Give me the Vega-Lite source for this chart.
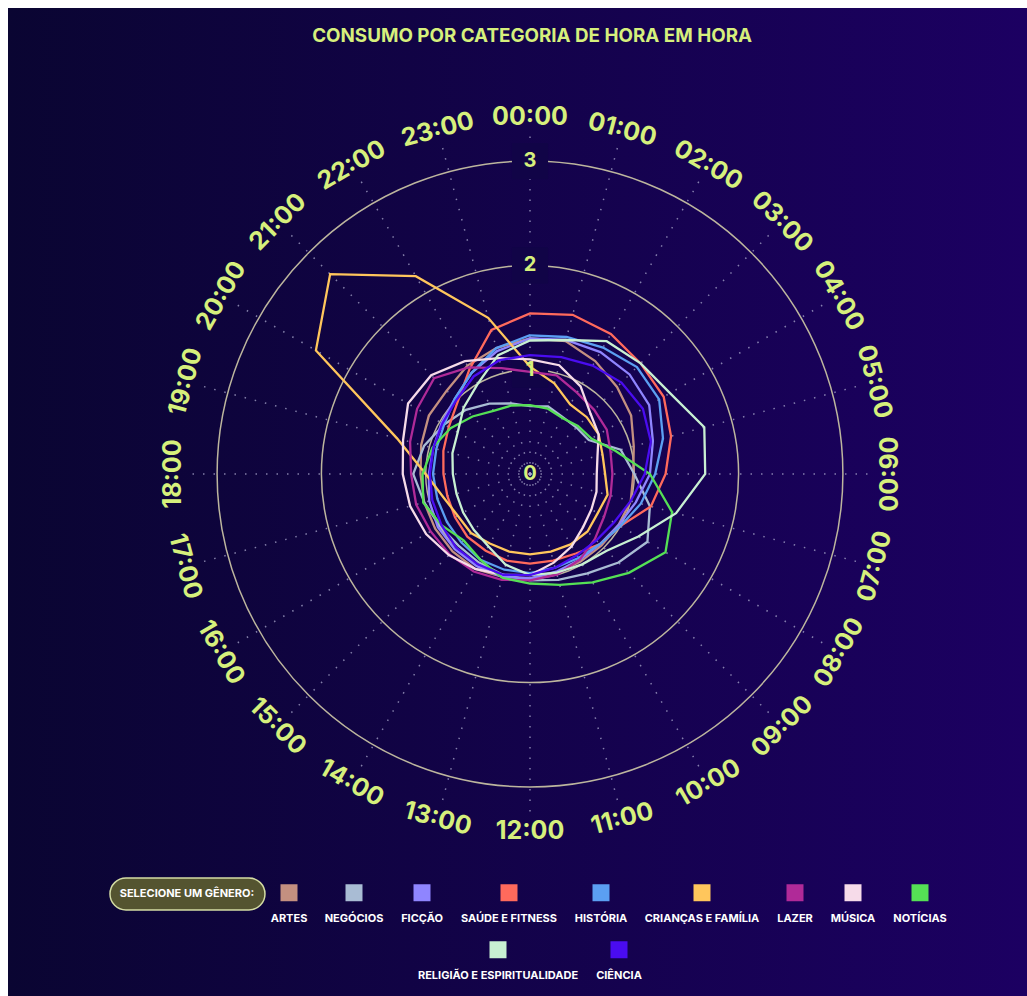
{
  "$schema": "https://vega.github.io/schema/vega-lite/v6.json",
  "width": 1019,
  "height": 988,
  "autosize": {"type": "none"},
  "padding": {"left": 8, "top": 8, "right": 0, "bottom": 0},
  "background": "#ffffff",
  "config": {
    "view": {"stroke": null, "fill": {"gradient": "linear", "x1": 0, "y1": 0, "x2": 1, "y2": 0, "stops": [{"offset": 0, "color": "#0a0532"}, {"offset": 1, "color": "#1c0062"}]}},
    "axis": {"disable": true},
    "style": {"guide-label": {"lineHeight": 20}}
  },
  "datasets": {
    "hours": [
      {"hour": 0, "label": "00:00"}, {"hour": 1, "label": "01:00"}, {"hour": 2, "label": "02:00"}, {"hour": 3, "label": "03:00"},
      {"hour": 4, "label": "04:00"}, {"hour": 5, "label": "05:00"}, {"hour": 6, "label": "06:00"}, {"hour": 7, "label": "07:00"},
      {"hour": 8, "label": "08:00"}, {"hour": 9, "label": "09:00"}, {"hour": 10, "label": "10:00"}, {"hour": 11, "label": "11:00"},
      {"hour": 12, "label": "12:00"}, {"hour": 13, "label": "13:00"}, {"hour": 14, "label": "14:00"}, {"hour": 15, "label": "15:00"},
      {"hour": 16, "label": "16:00"}, {"hour": 17, "label": "17:00"}, {"hour": 18, "label": "18:00"}, {"hour": 19, "label": "19:00"},
      {"hour": 20, "label": "20:00"}, {"hour": 21, "label": "21:00"}, {"hour": 22, "label": "22:00"}, {"hour": 23, "label": "23:00"}
    ],
    "ticks": [{"v": 0}, {"v": 1}, {"v": 2}, {"v": 3}],
    "series": [
      {"genre":"ARTES","hour":0,"value":1.3},{"genre":"ARTES","hour":1,"value":1.32},{"genre":"ARTES","hour":2,"value":1.25},{"genre":"ARTES","hour":3,"value":1.18},{"genre":"ARTES","hour":4,"value":1.12},{"genre":"ARTES","hour":5,"value":1.03},{"genre":"ARTES","hour":6,"value":0.99},{"genre":"ARTES","hour":7,"value":1.0},{"genre":"ARTES","hour":8,"value":0.98},{"genre":"ARTES","hour":9,"value":0.97},{"genre":"ARTES","hour":10,"value":0.97},{"genre":"ARTES","hour":11,"value":0.98},{"genre":"ARTES","hour":12,"value":1.0},{"genre":"ARTES","hour":13,"value":1.02},{"genre":"ARTES","hour":14,"value":1.05},{"genre":"ARTES","hour":15,"value":1.05},{"genre":"ARTES","hour":16,"value":1.05},{"genre":"ARTES","hour":17,"value":1.05},{"genre":"ARTES","hour":18,"value":1.05},{"genre":"ARTES","hour":19,"value":1.08},{"genre":"ARTES","hour":20,"value":1.12},{"genre":"ARTES","hour":21,"value":1.13},{"genre":"ARTES","hour":22,"value":1.2},{"genre":"ARTES","hour":23,"value":1.25},
      {"genre":"NEGÓCIOS","hour":0,"value":0.65},{"genre":"NEGÓCIOS","hour":1,"value":0.67},{"genre":"NEGÓCIOS","hour":2,"value":0.63},{"genre":"NEGÓCIOS","hour":3,"value":0.63},{"genre":"NEGÓCIOS","hour":4,"value":0.65},{"genre":"NEGÓCIOS","hour":5,"value":0.9},{"genre":"NEGÓCIOS","hour":6,"value":1.0},{"genre":"NEGÓCIOS","hour":7,"value":1.19},{"genre":"NEGÓCIOS","hour":8,"value":1.3},{"genre":"NEGÓCIOS","hour":9,"value":1.2},{"genre":"NEGÓCIOS","hour":10,"value":1.1},{"genre":"NEGÓCIOS","hour":11,"value":1.05},{"genre":"NEGÓCIOS","hour":12,"value":1.02},{"genre":"NEGÓCIOS","hour":13,"value":1.0},{"genre":"NEGÓCIOS","hour":14,"value":0.98},{"genre":"NEGÓCIOS","hour":15,"value":0.97},{"genre":"NEGÓCIOS","hour":16,"value":1.0},{"genre":"NEGÓCIOS","hour":17,"value":1.05},{"genre":"NEGÓCIOS","hour":18,"value":1.12},{"genre":"NEGÓCIOS","hour":19,"value":1.05},{"genre":"NEGÓCIOS","hour":20,"value":0.95},{"genre":"NEGÓCIOS","hour":21,"value":0.87},{"genre":"NEGÓCIOS","hour":22,"value":0.78},{"genre":"NEGÓCIOS","hour":23,"value":0.7},
      {"genre":"FICÇÃO","hour":0,"value":1.3},{"genre":"FICÇÃO","hour":1,"value":1.33},{"genre":"FICÇÃO","hour":2,"value":1.35},{"genre":"FICÇÃO","hour":3,"value":1.35},{"genre":"FICÇÃO","hour":4,"value":1.32},{"genre":"FICÇÃO","hour":5,"value":1.22},{"genre":"FICÇÃO","hour":6,"value":1.15},{"genre":"FICÇÃO","hour":7,"value":1.05},{"genre":"FICÇÃO","hour":8,"value":0.98},{"genre":"FICÇÃO","hour":9,"value":0.95},{"genre":"FICÇÃO","hour":10,"value":0.95},{"genre":"FICÇÃO","hour":11,"value":0.97},{"genre":"FICÇÃO","hour":12,"value":1.0},{"genre":"FICÇÃO","hour":13,"value":1.02},{"genre":"FICÇÃO","hour":14,"value":1.02},{"genre":"FICÇÃO","hour":15,"value":1.02},{"genre":"FICÇÃO","hour":16,"value":1.02},{"genre":"FICÇÃO","hour":17,"value":1.0},{"genre":"FICÇÃO","hour":18,"value":0.97},{"genre":"FICÇÃO","hour":19,"value":0.96},{"genre":"FICÇÃO","hour":20,"value":0.98},{"genre":"FICÇÃO","hour":21,"value":1.02},{"genre":"FICÇÃO","hour":22,"value":1.12},{"genre":"FICÇÃO","hour":23,"value":1.22},
      {"genre":"SAÚDE E FITNESS","hour":0,"value":1.54},{"genre":"SAÚDE E FITNESS","hour":1,"value":1.58},{"genre":"SAÚDE E FITNESS","hour":2,"value":1.55},{"genre":"SAÚDE E FITNESS","hour":3,"value":1.5},{"genre":"SAÚDE E FITNESS","hour":4,"value":1.48},{"genre":"SAÚDE E FITNESS","hour":5,"value":1.4},{"genre":"SAÚDE E FITNESS","hour":6,"value":1.3},{"genre":"SAÚDE E FITNESS","hour":7,"value":1.2},{"genre":"SAÚDE E FITNESS","hour":8,"value":1.0},{"genre":"SAÚDE E FITNESS","hour":9,"value":0.95},{"genre":"SAÚDE E FITNESS","hour":10,"value":0.88},{"genre":"SAÚDE E FITNESS","hour":11,"value":0.86},{"genre":"SAÚDE E FITNESS","hour":12,"value":0.86},{"genre":"SAÚDE E FITNESS","hour":13,"value":0.86},{"genre":"SAÚDE E FITNESS","hour":14,"value":0.85},{"genre":"SAÚDE E FITNESS","hour":15,"value":0.85},{"genre":"SAÚDE E FITNESS","hour":16,"value":0.83},{"genre":"SAÚDE E FITNESS","hour":17,"value":0.82},{"genre":"SAÚDE E FITNESS","hour":18,"value":0.83},{"genre":"SAÚDE E FITNESS","hour":19,"value":0.86},{"genre":"SAÚDE E FITNESS","hour":20,"value":0.9},{"genre":"SAÚDE E FITNESS","hour":21,"value":0.98},{"genre":"SAÚDE E FITNESS","hour":22,"value":1.16},{"genre":"SAÚDE E FITNESS","hour":23,"value":1.43},
      {"genre":"HISTÓRIA","hour":0,"value":1.33},{"genre":"HISTÓRIA","hour":1,"value":1.36},{"genre":"HISTÓRIA","hour":2,"value":1.4},{"genre":"HISTÓRIA","hour":3,"value":1.45},{"genre":"HISTÓRIA","hour":4,"value":1.43},{"genre":"HISTÓRIA","hour":5,"value":1.32},{"genre":"HISTÓRIA","hour":6,"value":1.2},{"genre":"HISTÓRIA","hour":7,"value":1.1},{"genre":"HISTÓRIA","hour":8,"value":1.0},{"genre":"HISTÓRIA","hour":9,"value":0.95},{"genre":"HISTÓRIA","hour":10,"value":0.93},{"genre":"HISTÓRIA","hour":11,"value":0.93},{"genre":"HISTÓRIA","hour":12,"value":0.95},{"genre":"HISTÓRIA","hour":13,"value":0.95},{"genre":"HISTÓRIA","hour":14,"value":0.95},{"genre":"HISTÓRIA","hour":15,"value":0.93},{"genre":"HISTÓRIA","hour":16,"value":0.92},{"genre":"HISTÓRIA","hour":17,"value":0.92},{"genre":"HISTÓRIA","hour":18,"value":0.93},{"genre":"HISTÓRIA","hour":19,"value":0.93},{"genre":"HISTÓRIA","hour":20,"value":0.95},{"genre":"HISTÓRIA","hour":21,"value":1.02},{"genre":"HISTÓRIA","hour":22,"value":1.12},{"genre":"HISTÓRIA","hour":23,"value":1.25},
      {"genre":"CRIANÇAS E FAMÍLIA","hour":0,"value":1.03},{"genre":"CRIANÇAS E FAMÍLIA","hour":1,"value":0.9},{"genre":"CRIANÇAS E FAMÍLIA","hour":2,"value":0.77},{"genre":"CRIANÇAS E FAMÍLIA","hour":3,"value":0.77},{"genre":"CRIANÇAS E FAMÍLIA","hour":4,"value":0.76},{"genre":"CRIANÇAS E FAMÍLIA","hour":5,"value":0.72},{"genre":"CRIANÇAS E FAMÍLIA","hour":6,"value":0.72},{"genre":"CRIANÇAS E FAMÍLIA","hour":7,"value":0.77},{"genre":"CRIANÇAS E FAMÍLIA","hour":8,"value":0.75},{"genre":"CRIANÇAS E FAMÍLIA","hour":9,"value":0.78},{"genre":"CRIANÇAS E FAMÍLIA","hour":10,"value":0.78},{"genre":"CRIANÇAS E FAMÍLIA","hour":11,"value":0.77},{"genre":"CRIANÇAS E FAMÍLIA","hour":12,"value":0.77},{"genre":"CRIANÇAS E FAMÍLIA","hour":13,"value":0.77},{"genre":"CRIANÇAS E FAMÍLIA","hour":14,"value":0.77},{"genre":"CRIANÇAS E FAMÍLIA","hour":15,"value":0.8},{"genre":"CRIANÇAS E FAMÍLIA","hour":16,"value":0.8},{"genre":"CRIANÇAS E FAMÍLIA","hour":17,"value":0.86},{"genre":"CRIANÇAS E FAMÍLIA","hour":18,"value":1.0},{"genre":"CRIANÇAS E FAMÍLIA","hour":19,"value":1.32},{"genre":"CRIANÇAS E FAMÍLIA","hour":20,"value":2.37},{"genre":"CRIANÇAS E FAMÍLIA","hour":21,"value":2.71},{"genre":"CRIANÇAS E FAMÍLIA","hour":22,"value":2.19},{"genre":"CRIANÇAS E FAMÍLIA","hour":23,"value":1.55},
      {"genre":"LAZER","hour":0,"value":0.98},{"genre":"LAZER","hour":1,"value":0.98},{"genre":"LAZER","hour":2,"value":0.9},{"genre":"LAZER","hour":3,"value":0.87},{"genre":"LAZER","hour":4,"value":0.85},{"genre":"LAZER","hour":5,"value":0.8},{"genre":"LAZER","hour":6,"value":0.79},{"genre":"LAZER","hour":7,"value":0.8},{"genre":"LAZER","hour":8,"value":0.82},{"genre":"LAZER","hour":9,"value":0.88},{"genre":"LAZER","hour":10,"value":0.95},{"genre":"LAZER","hour":11,"value":1.0},{"genre":"LAZER","hour":12,"value":1.02},{"genre":"LAZER","hour":13,"value":1.05},{"genre":"LAZER","hour":14,"value":1.08},{"genre":"LAZER","hour":15,"value":1.09},{"genre":"LAZER","hour":16,"value":1.1},{"genre":"LAZER","hour":17,"value":1.13},{"genre":"LAZER","hour":18,"value":1.14},{"genre":"LAZER","hour":19,"value":1.19},{"genre":"LAZER","hour":20,"value":1.25},{"genre":"LAZER","hour":21,"value":1.3},{"genre":"LAZER","hour":22,"value":1.18},{"genre":"LAZER","hour":23,"value":1.05},
      {"genre":"MÚSICA","hour":0,"value":1.1},{"genre":"MÚSICA","hour":1,"value":1.08},{"genre":"MÚSICA","hour":2,"value":0.97},{"genre":"MÚSICA","hour":3,"value":0.82},{"genre":"MÚSICA","hour":4,"value":0.76},{"genre":"MÚSICA","hour":5,"value":0.67},{"genre":"MÚSICA","hour":6,"value":0.64},{"genre":"MÚSICA","hour":7,"value":0.66},{"genre":"MÚSICA","hour":8,"value":0.68},{"genre":"MÚSICA","hour":9,"value":0.72},{"genre":"MÚSICA","hour":10,"value":0.8},{"genre":"MÚSICA","hour":11,"value":0.88},{"genre":"MÚSICA","hour":12,"value":0.97},{"genre":"MÚSICA","hour":13,"value":1.0},{"genre":"MÚSICA","hour":14,"value":1.05},{"genre":"MÚSICA","hour":15,"value":1.1},{"genre":"MÚSICA","hour":16,"value":1.15},{"genre":"MÚSICA","hour":17,"value":1.19},{"genre":"MÚSICA","hour":18,"value":1.22},{"genre":"MÚSICA","hour":19,"value":1.26},{"genre":"MÚSICA","hour":20,"value":1.35},{"genre":"MÚSICA","hour":21,"value":1.34},{"genre":"MÚSICA","hour":22,"value":1.25},{"genre":"MÚSICA","hour":23,"value":1.15},
      {"genre":"NOTÍCIAS","hour":0,"value":0.66},{"genre":"NOTÍCIAS","hour":1,"value":0.65},{"genre":"NOTÍCIAS","hour":2,"value":0.62},{"genre":"NOTÍCIAS","hour":3,"value":0.65},{"genre":"NOTÍCIAS","hour":4,"value":0.68},{"genre":"NOTÍCIAS","hour":5,"value":0.85},{"genre":"NOTÍCIAS","hour":6,"value":1.15},{"genre":"NOTÍCIAS","hour":7,"value":1.41},{"genre":"NOTÍCIAS","hour":8,"value":1.5},{"genre":"NOTÍCIAS","hour":9,"value":1.34},{"genre":"NOTÍCIAS","hour":10,"value":1.2},{"genre":"NOTÍCIAS","hour":11,"value":1.1},{"genre":"NOTÍCIAS","hour":12,"value":1.05},{"genre":"NOTÍCIAS","hour":13,"value":1.03},{"genre":"NOTÍCIAS","hour":14,"value":0.95},{"genre":"NOTÍCIAS","hour":15,"value":0.9},{"genre":"NOTÍCIAS","hour":16,"value":0.98},{"genre":"NOTÍCIAS","hour":17,"value":1.06},{"genre":"NOTÍCIAS","hour":18,"value":1.03},{"genre":"NOTÍCIAS","hour":19,"value":0.97},{"genre":"NOTÍCIAS","hour":20,"value":0.88},{"genre":"NOTÍCIAS","hour":21,"value":0.78},{"genre":"NOTÍCIAS","hour":22,"value":0.7},{"genre":"NOTÍCIAS","hour":23,"value":0.68},
      {"genre":"RELIGIÃO E ESPIRITUALIDADE","hour":0,"value":1.28},{"genre":"RELIGIÃO E ESPIRITUALIDADE","hour":1,"value":1.33},{"genre":"RELIGIÃO E ESPIRITUALIDADE","hour":2,"value":1.47},{"genre":"RELIGIÃO E ESPIRITUALIDADE","hour":3,"value":1.5},{"genre":"RELIGIÃO E ESPIRITUALIDADE","hour":4,"value":1.55},{"genre":"RELIGIÃO E ESPIRITUALIDADE","hour":5,"value":1.73},{"genre":"RELIGIÃO E ESPIRITUALIDADE","hour":6,"value":1.68},{"genre":"RELIGIÃO E ESPIRITUALIDADE","hour":7,"value":1.45},{"genre":"RELIGIÃO E ESPIRITUALIDADE","hour":8,"value":1.2},{"genre":"RELIGIÃO E ESPIRITUALIDADE","hour":9,"value":1.04},{"genre":"RELIGIÃO E ESPIRITUALIDADE","hour":10,"value":1.0},{"genre":"RELIGIÃO E ESPIRITUALIDADE","hour":11,"value":0.98},{"genre":"RELIGIÃO E ESPIRITUALIDADE","hour":12,"value":0.97},{"genre":"RELIGIÃO E ESPIRITUALIDADE","hour":13,"value":0.9},{"genre":"RELIGIÃO E ESPIRITUALIDADE","hour":14,"value":0.8},{"genre":"RELIGIÃO E ESPIRITUALIDADE","hour":15,"value":0.76},{"genre":"RELIGIÃO E ESPIRITUALIDADE","hour":16,"value":0.74},{"genre":"RELIGIÃO E ESPIRITUALIDADE","hour":17,"value":0.73},{"genre":"RELIGIÃO E ESPIRITUALIDADE","hour":18,"value":0.74},{"genre":"RELIGIÃO E ESPIRITUALIDADE","hour":19,"value":0.77},{"genre":"RELIGIÃO E ESPIRITUALIDADE","hour":20,"value":0.8},{"genre":"RELIGIÃO E ESPIRITUALIDADE","hour":21,"value":0.9},{"genre":"RELIGIÃO E ESPIRITUALIDADE","hour":22,"value":1.0},{"genre":"RELIGIÃO E ESPIRITUALIDADE","hour":23,"value":1.18},
      {"genre":"CIÊNCIA","hour":0,"value":1.14},{"genre":"CIÊNCIA","hour":1,"value":1.16},{"genre":"CIÊNCIA","hour":2,"value":1.2},{"genre":"CIÊNCIA","hour":3,"value":1.24},{"genre":"CIÊNCIA","hour":4,"value":1.25},{"genre":"CIÊNCIA","hour":5,"value":1.2},{"genre":"CIÊNCIA","hour":6,"value":1.1},{"genre":"CIÊNCIA","hour":7,"value":1.0},{"genre":"CIÊNCIA","hour":8,"value":0.93},{"genre":"CIÊNCIA","hour":9,"value":0.9},{"genre":"CIÊNCIA","hour":10,"value":0.9},{"genre":"CIÊNCIA","hour":11,"value":0.93},{"genre":"CIÊNCIA","hour":12,"value":0.97},{"genre":"CIÊNCIA","hour":13,"value":1.0},{"genre":"CIÊNCIA","hour":14,"value":1.0},{"genre":"CIÊNCIA","hour":15,"value":1.0},{"genre":"CIÊNCIA","hour":16,"value":0.98},{"genre":"CIÊNCIA","hour":17,"value":0.97},{"genre":"CIÊNCIA","hour":18,"value":0.96},{"genre":"CIÊNCIA","hour":19,"value":0.96},{"genre":"CIÊNCIA","hour":20,"value":0.97},{"genre":"CIÊNCIA","hour":21,"value":1.0},{"genre":"CIÊNCIA","hour":22,"value":1.08},{"genre":"CIÊNCIA","hour":23,"value":1.13}
    ]
  },
  "data": {"name": "series"},
  "layer": [
    {
      "data": {"name": "hours"},
      "transform": [
        {"calculate": "0", "as": "ox"},
        {"calculate": "3.3*sin(datum.hour*PI/12)", "as": "sx"},
        {"calculate": "3.3*cos(datum.hour*PI/12)", "as": "sy"}
      ],
      "mark": {"type": "rule", "stroke": "#aaa8cc", "strokeWidth": 1.5, "strokeDash": [1.5, 9], "opacity": 0.75},
      "encoding": {
        "x": {"field": "ox", "type": "quantitative", "scale": {"domain": [-5.0048, 4.7651], "nice": false, "zero": false}},
        "y": {"field": "ox", "type": "quantitative", "scale": {"domain": [-5.0048, 4.4679], "nice": false, "zero": false}},
        "x2": {"field": "sx"},
        "y2": {"field": "sy"}
      }
    },
    {
      "data": {"values": [{"ring": 1}, {"ring": 2}, {"ring": 3}]},
      "mark": {"type": "point", "shape": "circle", "filled": false, "stroke": "#bdb69e", "strokeWidth": 1.5, "opacity": 1},
      "encoding": {
        "x": {"datum": 0, "type": "quantitative", "scale": {"domain": [-5.0048, 4.7651], "nice": false, "zero": false}},
        "y": {"datum": 0, "type": "quantitative", "scale": {"domain": [-5.0048, 4.4679], "nice": false, "zero": false}},
        "size": {"field": "ring", "type": "quantitative", "scale": {"type": "pow", "exponent": 2, "domain": [0, 3], "range": [0, 391630]}, "legend": null}
      }
    },
    {
      "data": {"name": "ticks"},
      "transform": [{"filter": "datum.v > 0"}],
      "mark": {"type": "point", "shape": "square", "filled": true, "fill": "#110447", "size": 1300, "opacity": 1, "strokeWidth": 0},
      "encoding": {
        "x": {"datum": 0, "type": "quantitative", "scale": {"domain": [-5.0048, 4.7651], "nice": false, "zero": false}},
        "y": {"field": "v", "type": "quantitative", "scale": {"domain": [-5.0048, 4.4679], "nice": false, "zero": false}}
      }
    },
    {
      "transform": [
        {"calculate": "datum.value*sin(datum.hour*PI/12)", "as": "px"},
        {"calculate": "datum.value*cos(datum.hour*PI/12)", "as": "py"}
      ],
      "mark": {"type": "line", "interpolate": "linear-closed", "strokeWidth": 2.3},
      "encoding": {
        "x": {"field": "px", "type": "quantitative", "scale": {"domain": [-5.0048, 4.7651], "nice": false, "zero": false}},
        "y": {"field": "py", "type": "quantitative", "scale": {"domain": [-5.0048, 4.4679], "nice": false, "zero": false}},
        "stroke": {
          "field": "genre", "type": "nominal", "legend": null,
          "scale": {
            "domain": ["ARTES", "NEGÓCIOS", "FICÇÃO", "SAÚDE E FITNESS", "HISTÓRIA", "CRIANÇAS E FAMÍLIA", "LAZER", "MÚSICA", "NOTÍCIAS", "RELIGIÃO E ESPIRITUALIDADE", "CIÊNCIA"],
            "range": ["#c49080", "#a9bcd4", "#8f85ff", "#ff6a5c", "#5b9ff2", "#ffc65c", "#b02a98", "#f6dbe9", "#55e055", "#c8f0d2", "#4a0cf0"]
          }
        },
        "order": {"field": "hour", "type": "quantitative"}
      }
    },
    {
      "transform": [
        {"filter": "datum.hour == 0"},
        {"filter": {"field": "genre", "oneOf": ["ARTES", "NEGÓCIOS", "FICÇÃO", "SAÚDE E FITNESS", "HISTÓRIA", "CRIANÇAS E FAMÍLIA", "LAZER", "MÚSICA", "NOTÍCIAS"]}}
      ],
      "mark": {"type": "point", "filled": true, "opacity": 0, "size": 10, "strokeWidth": 0},
      "encoding": {
        "x": {"datum": 0, "type": "quantitative", "scale": {"domain": [-5.0048, 4.7651], "nice": false, "zero": false}},
        "y": {"datum": 0, "type": "quantitative", "scale": {"domain": [-5.0048, 4.4679], "nice": false, "zero": false}},
        "fill": {
          "field": "genre", "type": "nominal",
          "scale": {
            "domain": ["ARTES", "NEGÓCIOS", "FICÇÃO", "SAÚDE E FITNESS", "HISTÓRIA", "CRIANÇAS E FAMÍLIA", "LAZER", "MÚSICA", "NOTÍCIAS"],
            "range": ["#c49080", "#a9bcd4", "#8f85ff", "#ff6a5c", "#5b9ff2", "#ffc65c", "#b02a98", "#f6dbe9", "#55e055"]
          },
          "legend": {
            "title": null, "orient": "none", "legendX": 272.5, "legendY": 876, "direction": "horizontal", "columns": 9,
            "columnPadding": 17, "padding": 0, "symbolType": "square", "symbolSize": 289, "symbolStrokeWidth": 0, "symbolOpacity": 1,
            "labelExpr": "['\u00a0', datum.label]", "labelBaseline": "top", "labelAlign": "center", "labelOffset": -8.5,
            "labelFont": "Inter", "labelFontSize": 11, "labelFontWeight": "bold", "labelColor": "#ffffff", "labelLimit": 300
          }
        }
      }
    },
    {
      "transform": [
        {"filter": "datum.hour == 0"},
        {"filter": {"field": "genre", "oneOf": ["RELIGIÃO E ESPIRITUALIDADE", "CIÊNCIA"]}}
      ],
      "mark": {"type": "point", "filled": true, "opacity": 0, "size": 10, "strokeWidth": 0},
      "encoding": {
        "x": {"datum": 0, "type": "quantitative", "scale": {"domain": [-5.0048, 4.7651], "nice": false, "zero": false}},
        "y": {"datum": 0, "type": "quantitative", "scale": {"domain": [-5.0048, 4.4679], "nice": false, "zero": false}},
        "color": {
          "field": "genre", "type": "nominal",
          "scale": {"domain": ["RELIGIÃO E ESPIRITUALIDADE", "CIÊNCIA"], "range": ["#c8f0d2", "#4a0cf0"]},
          "legend": {
            "title": null, "orient": "none", "legendX": 481.5, "legendY": 933, "direction": "horizontal", "columns": 2,
            "columnPadding": 17, "padding": 0, "symbolType": "square", "symbolSize": 289, "symbolStrokeWidth": 0, "symbolOpacity": 1,
            "labelExpr": "['\u00a0', datum.label]", "labelBaseline": "top", "labelAlign": "center", "labelOffset": -8.5,
            "labelFont": "Inter", "labelFontSize": 11, "labelFontWeight": "bold", "labelColor": "#ffffff", "labelLimit": 300
          }
        }
      }
    },
    {
      "data": {"name": "ticks"},
      "mark": {"type": "text", "font": "Inter", "fontSize": 20, "fontWeight": "bold", "color": "#d6f07c", "baseline": "middle", "align": "center"},
      "encoding": {
        "x": {"datum": 0, "type": "quantitative", "scale": {"domain": [-5.0048, 4.7651], "nice": false, "zero": false}},
        "y": {"field": "v", "type": "quantitative", "scale": {"domain": [-5.0048, 4.4679], "nice": false, "zero": false}},
        "text": {"field": "v", "type": "quantitative"}
      }
    },
    {
      "data": {"name": "hours"},
      "transform": [
        {"calculate": "3.42*sin(datum.hour*PI/12)", "as": "lx"},
        {"calculate": "3.42*cos(datum.hour*PI/12)", "as": "ly"},
        {"calculate": "datum.hour >= 7 && datum.hour <= 17 ? datum.hour*15 - 180 : (datum.hour > 17 ? datum.hour*15 - 360 : datum.hour*15)", "as": "rot"}
      ],
      "mark": {"type": "text", "font": "Inter", "fontSize": 25, "fontWeight": "bold", "color": "#d6f07c", "baseline": "middle", "align": "center"},
      "encoding": {
        "x": {"field": "lx", "type": "quantitative", "scale": {"domain": [-5.0048, 4.7651], "nice": false, "zero": false}},
        "y": {"field": "ly", "type": "quantitative", "scale": {"domain": [-5.0048, 4.4679], "nice": false, "zero": false}},
        "text": {"field": "label", "type": "nominal"},
        "angle": {"field": "rot", "type": "quantitative", "scale": null}
      }
    },
    {
      "data": {"values": [{"title": "CONSUMO POR CATEGORIA DE HORA EM HORA", "tx": 0.02, "ty": 4.2}]},
      "mark": {"type": "text", "font": "Inter", "fontSize": 18.8, "fontWeight": "bold", "color": "#d6f07c", "baseline": "middle", "align": "center"},
      "encoding": {
        "x": {"field": "tx", "type": "quantitative", "scale": {"domain": [-5.0048, 4.7651], "nice": false, "zero": false}},
        "y": {"field": "ty", "type": "quantitative", "scale": {"domain": [-5.0048, 4.4679], "nice": false, "zero": false}},
        "text": {"field": "title", "type": "nominal"}
      }
    },
    {
      "data": {"values": [{"label": "SELECIONE UM GÊNERO:", "x1": -4.027, "x2": -2.541, "y1": -3.873, "y2": -4.18, "tx": -3.289, "ty": -4.027}]},
      "layer": [
        {
          "mark": {"type": "rect", "fill": "#545430", "stroke": "#d4dca4", "strokeWidth": 1.5, "cornerRadius": 16},
          "encoding": {
            "x": {"field": "x1", "type": "quantitative", "scale": {"domain": [-5.0048, 4.7651], "nice": false, "zero": false}},
            "x2": {"field": "x2"},
            "y": {"field": "y1", "type": "quantitative", "scale": {"domain": [-5.0048, 4.4679], "nice": false, "zero": false}},
            "y2": {"field": "y2"}
          }
        },
        {
          "mark": {"type": "text", "font": "Inter", "fontSize": 11, "fontWeight": "bold", "color": "#ffffff", "baseline": "middle", "align": "center"},
          "encoding": {
            "x": {"field": "tx", "type": "quantitative", "scale": {"domain": [-5.0048, 4.7651], "nice": false, "zero": false}},
            "y": {"field": "ty", "type": "quantitative", "scale": {"domain": [-5.0048, 4.4679], "nice": false, "zero": false}},
            "text": {"field": "label", "type": "nominal"}
          }
        }
      ]
    }
  ]
}
